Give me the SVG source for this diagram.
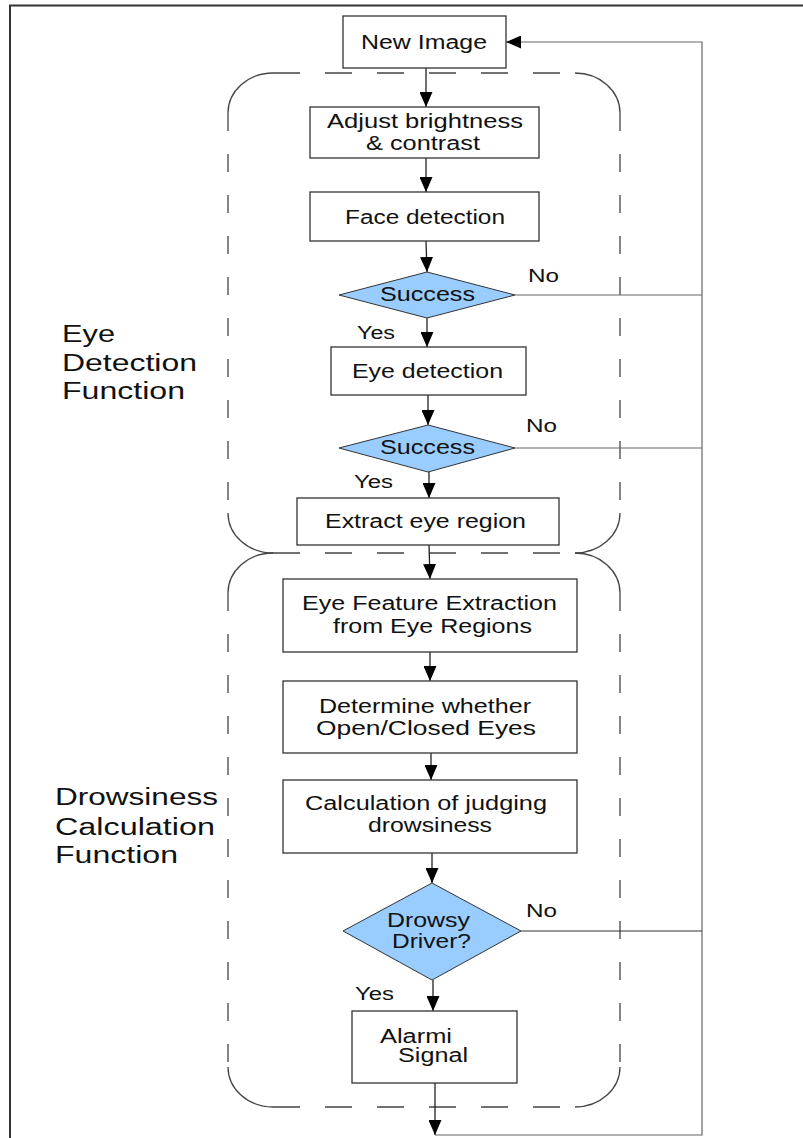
<svg xmlns="http://www.w3.org/2000/svg" width="803" height="1138" viewBox="0 0 803 1138">
<style>
.box{fill:#fff;stroke:#333;stroke-width:1.3}
.dia{fill:#99ccff;stroke:#333;stroke-width:1}
.t{font-family:"Liberation Sans",Arial,sans-serif;font-size:20px;fill:#111}
.lbl{font-size:23px}
.yn{font-size:18px}
.flow{stroke:#222;stroke-width:1.3;fill:none;marker-end:url(#ah)}
.fb{stroke:#666;stroke-width:1.2;fill:none}
.dash{stroke:#444;stroke-width:1.3;fill:none}
.dh{stroke-dasharray:27 25}
.dv{stroke-dasharray:18 23}
.frame{stroke:#333;stroke-width:2;fill:none}
</style>
<defs>
<marker id="ah" markerUnits="userSpaceOnUse" markerWidth="15" markerHeight="13" refX="15" refY="6.5" orient="auto">
<path d="M0,0 L15,6.5 L0,13 z" fill="#000"/>
</marker>
</defs>

<g id="frame">
<path class="frame" d="M10,1138 V5.5 H803"/>
</g>

<g id="regions">
<path class="dash dh" d="M273,73 H575"/>
<path class="dash dv" d="M228,113 V513"/>
<path class="dash dv" d="M620,113 V513"/>
<path class="dash" d="M228,113 A45,40 0 0 1 273,73 M575,73 A45,40 0 0 1 620,113 M228,513 A45,40 0 0 0 273,553 M620,513 A45,40 0 0 1 575,553"/>
<path class="dash dh" d="M273,553 H575"/>
<path class="dash dv" d="M228,593 V1067"/>
<path class="dash dv" d="M620,593 V1067"/>
<path class="dash" d="M228,593 A45,40 0 0 1 273,553 M575,553 A45,40 0 0 1 620,593 M228,1067 A45,40 0 0 0 273,1107 M620,1067 A45,40 0 0 1 575,1107"/>
<path class="dash dh" d="M273,1107 H575"/>
</g>

<g id="labels">
<text class="t lbl" x="62" y="342" textLength="53" lengthAdjust="spacingAndGlyphs">Eye</text>
<text class="t lbl" x="62" y="371" textLength="135" lengthAdjust="spacingAndGlyphs">Detection</text>
<text class="t lbl" x="62" y="399" textLength="123" lengthAdjust="spacingAndGlyphs">Function</text>
<text class="t lbl" x="55" y="805" textLength="163" lengthAdjust="spacingAndGlyphs">Drowsiness</text>
<text class="t lbl" x="55" y="835" textLength="160" lengthAdjust="spacingAndGlyphs">Calculation</text>
<text class="t lbl" x="55" y="863" textLength="123" lengthAdjust="spacingAndGlyphs">Function</text>
</g>

<g id="connectors">
<path class="flow" d="M426,68 V107"/>
<path class="flow" d="M426,158 V192"/>
<path class="flow" d="M426,241 L427,272"/>
<path class="flow" d="M427,318 V347"/>
<path class="flow" d="M428,395 V425"/>
<path class="flow" d="M429,472 V498"/>
<path class="flow" d="M429,545 L430,579"/>
<path class="flow" d="M430,652 V681"/>
<path class="flow" d="M431,753 V780"/>
<path class="flow" d="M432,853 V883"/>
<path class="flow" d="M433,980 V1011"/>
<path class="flow" d="M435,1083 V1135"/>
<path class="fb" d="M435,1135 H702 V42 H506" style="marker-end:url(#ah)"/>
<path class="fb" d="M515,295 H702"/>
<path class="fb" d="M515,448 H702"/>
<path class="fb" d="M521,931 H702" style="stroke:#333"/>
<text class="t yn" x="528" y="282" textLength="31" lengthAdjust="spacingAndGlyphs">No</text>
<text class="t yn" x="357" y="339" textLength="38" lengthAdjust="spacingAndGlyphs">Yes</text>
<text class="t yn" x="526" y="432" textLength="31" lengthAdjust="spacingAndGlyphs">No</text>
<text class="t yn" x="354" y="488" textLength="39" lengthAdjust="spacingAndGlyphs">Yes</text>
<text class="t yn" x="526" y="917" textLength="31" lengthAdjust="spacingAndGlyphs">No</text>
<text class="t yn" x="355" y="1000" textLength="39" lengthAdjust="spacingAndGlyphs">Yes</text>
</g>

<g id="n-new-image">
<rect class="box" x="343" y="16" width="163" height="52"/>
<text class="t" x="361" y="49" textLength="126" lengthAdjust="spacingAndGlyphs">New Image</text>
</g>
<g id="n-adjust">
<rect class="box" x="310" y="107" width="229" height="51"/>
<text class="t" x="327" y="128" textLength="196" lengthAdjust="spacingAndGlyphs">Adjust brightness</text>
<text class="t" x="366" y="150" textLength="114" lengthAdjust="spacingAndGlyphs">&amp; contrast</text>
</g>
<g id="n-face">
<rect class="box" x="310" y="192" width="229" height="49"/>
<text class="t" x="345" y="224" textLength="160" lengthAdjust="spacingAndGlyphs">Face detection</text>
</g>
<g id="n-success1">
<polygon class="dia" points="339,295 427,272 515,295 427,318"/>
<text class="t" x="380" y="301" textLength="95" lengthAdjust="spacingAndGlyphs">Success</text>
</g>
<g id="n-eye-det">
<rect class="box" x="331" y="347" width="195" height="48"/>
<text class="t" x="352" y="378" textLength="151" lengthAdjust="spacingAndGlyphs">Eye detection</text>
</g>
<g id="n-success2">
<polygon class="dia" points="339,448 428,425 515,448 428,472"/>
<text class="t" x="380" y="454" textLength="95" lengthAdjust="spacingAndGlyphs">Success</text>
</g>
<g id="n-extract">
<rect class="box" x="297" y="498" width="262" height="47"/>
<text class="t" x="325" y="528" textLength="201" lengthAdjust="spacingAndGlyphs">Extract eye region</text>
</g>
<g id="n-feature">
<rect class="box" x="283" y="579" width="294" height="73"/>
<text class="t" x="302" y="610" textLength="255" lengthAdjust="spacingAndGlyphs">Eye Feature Extraction</text>
<text class="t" x="333" y="633" textLength="199" lengthAdjust="spacingAndGlyphs">from Eye Regions</text>
</g>
<g id="n-determine">
<rect class="box" x="283" y="681" width="294" height="72"/>
<text class="t" x="319" y="713" textLength="212" lengthAdjust="spacingAndGlyphs">Determine whether</text>
<text class="t" x="316" y="735" textLength="220" lengthAdjust="spacingAndGlyphs">Open/Closed Eyes</text>
</g>
<g id="n-calc">
<rect class="box" x="283" y="780" width="294" height="73"/>
<text class="t" x="305" y="810" textLength="242" lengthAdjust="spacingAndGlyphs">Calculation of judging</text>
<text class="t" x="368" y="832" textLength="124" lengthAdjust="spacingAndGlyphs">drowsiness</text>
</g>
<g id="n-drowsy">
<polygon class="dia" points="343,931 432,883 521,931 432,980"/>
<text class="t" x="387" y="927" textLength="83" lengthAdjust="spacingAndGlyphs">Drowsy</text>
<text class="t" x="392" y="948" textLength="79" lengthAdjust="spacingAndGlyphs">Driver?</text>
</g>
<g id="n-alarm">
<rect class="box" x="352" y="1011" width="165" height="72"/>
<text class="t" x="380" y="1043" textLength="72" lengthAdjust="spacingAndGlyphs">Alarmi</text>
<text class="t" x="398" y="1062" textLength="70" lengthAdjust="spacingAndGlyphs">Signal</text>
</g>
</svg>
